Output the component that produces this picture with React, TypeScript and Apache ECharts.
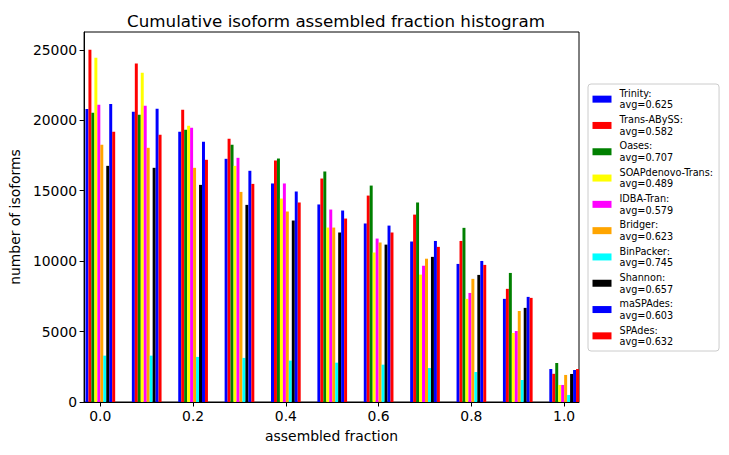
import React, { useEffect, useRef } from "react";
import * as echarts from "echarts";

const bins = [0.0, 0.1, 0.2, 0.3, 0.4, 0.5, 0.6, 0.7, 0.8, 0.9, 1.0];
const xTicks = [0.0, 0.2, 0.4, 0.6, 0.8, 1.0];
const yTicks = [0, 5000, 10000, 15000, 20000, 25000];

const names = [
  "Trinity",
  "Trans-ABySS",
  "Oases",
  "SOAPdenovo-Trans",
  "IDBA-Tran",
  "Bridger",
  "BinPacker",
  "Shannon",
  "maSPAdes",
  "SPAdes",
];
const avgs = ["0.625", "0.582", "0.707", "0.489", "0.579", "0.623", "0.745", "0.657", "0.603", "0.632"];
const colors = ["#0000ff", "#ff0000", "#008000", "#ffff00", "#ff00ff", "#ffa500", "#00ffff", "#000000", "#0000ff", "#ff0000"];

const trinity = [20800, 20600, 19180, 17260, 15510, 14020, 12670, 11390, 9800, 7320, 2340];
const transAbyss = [25000, 24030, 20740, 18680, 17140, 15860, 14650, 13300, 11430, 8030, 2000];
const oases = [20530, 20380, 19320, 18250, 17280, 16360, 15360, 14160, 12360, 9160, 2770];
const soap = [24430, 23370, 19600, 16760, 14440, 12380, 10610, 9040, 7320, 4900, 1210];
const idba = [21090, 21020, 19460, 17330, 15510, 13660, 11600, 9670, 7740, 5040, 1210];
const bridger = [18250, 18040, 16620, 14910, 13520, 12380, 11320, 10170, 8740, 6460, 1920];
const binpacker = [3290, 3290, 3200, 3130, 2940, 2790, 2650, 2410, 2130, 1560, 500];
const shannon = [16760, 16620, 15410, 13990, 12880, 12030, 11170, 10300, 9020, 6680, 1990];
const maspades = [21150, 20810, 18470, 16410, 14940, 13590, 12520, 11430, 10010, 7460, 2270];
const spades = [19180, 18960, 17190, 15480, 14160, 13020, 12030, 11010, 9730, 7390, 2340];

const seriesValues = [trinity, transAbyss, oases, soap, idba, bridger, binpacker, shannon, maspades, spades];

const FONT = "DejaVu Sans";
const BAR_W = 2.97;

export default function App() {
  const ref = useRef<HTMLDivElement>(null);
  useEffect(() => {
    if (!ref.current) return;
    const chart = echarts.init(ref.current, null, { renderer: "svg" });
    const nSeries = names.length;
    chart.setOption({
      animation: false,
      backgroundColor: "#ffffff",
      title: {
        text: "Cumulative isoform assembled fraction histogram",
        left: 331,
        top: 7,
        textAlign: "center",
        textStyle: { fontFamily: FONT, fontSize: 16.7, fontWeight: "normal", color: "#000" },
      },
      grid: {
        left: 83,
        top: 32,
        right: 150,
        bottom: 53,
        show: true,
        borderColor: "#000",
        borderWidth: 1,
        backgroundColor: "transparent",
      },
      legend: {
        orient: "vertical",
        left: 588,
        top: 84,
        padding: [3.5, 6, 3.5, 4.5],
        itemWidth: 19,
        itemHeight: 7,
        itemGap: 3,
        icon: "rect",
        selectedMode: false,
        backgroundColor: "rgba(255,255,255,0.8)",
        borderColor: "#cccccc",
        borderWidth: 1,
        borderRadius: 3,
        data: names,
        formatter: (n: string) => `${n}:\navg=${avgs[names.indexOf(n)]}`,
        textStyle: { fontFamily: FONT, fontSize: 9.7, lineHeight: 11.65, color: "#000", padding: [0, 0, 0, 3] },
      },
      xAxis: {
        type: "value",
        min: -0.035,
        max: 1.032,
        name: "assembled fraction",
        nameLocation: "middle",
        nameGap: 27,
        nameTextStyle: { fontFamily: FONT, fontSize: 13.9, color: "#000" },
        axisLine: { show: true, onZero: false, lineStyle: { color: "#000", width: 1 } },
        axisTick: { show: true, inside: false, length: 4.5, customValues: xTicks, lineStyle: { color: "#000" } },
        axisLabel: {
          customValues: xTicks,
          formatter: (v: number) => v.toFixed(1),
          fontFamily: FONT,
          fontSize: 13.9,
          color: "#000",
          margin: 7,
        },
        splitLine: { show: false },
      },
      yAxis: {
        type: "value",
        min: 0,
        max: 26260,
        name: "number of isoforms",
        nameLocation: "middle",
        nameGap: 60,
        nameTextStyle: { fontFamily: FONT, fontSize: 13.9, color: "#000" },
        axisLine: { show: true, onZero: false, lineStyle: { color: "#000", width: 1 } },
        axisTick: { show: true, inside: false, length: 4.5, customValues: yTicks, lineStyle: { color: "#000" } },
        axisLabel: {
          customValues: yTicks,
          formatter: (v: number) => String(v),
          fontFamily: FONT,
          fontSize: 13.9,
          color: "#000",
          margin: 7,
        },
        splitLine: { show: false },
      },
      series: names.map((n, i) => ({
        name: n,
        type: "custom",
        itemStyle: { color: colors[i] },
        encode: { x: 0, y: 1 },
        data: bins.map((b, j) => [b, seriesValues[i][j]]),
        renderItem: (params: any, api: any) => {
          const x = api.value(0);
          const y = api.value(1);
          const top = api.coord([x, y]);
          const base = api.coord([x, 0]);
          const left = top[0] + (i - nSeries / 2) * BAR_W;
          return {
            type: "rect",
            shape: { x: left, y: top[1], width: BAR_W, height: base[1] - top[1] },
            style: { fill: colors[i] },
          };
        },
      })),
    });
    return () => chart.dispose();
  }, []);
  return (
    <div
      ref={ref}
      style={{ position: "absolute", left: 0, top: 0, width: 729, height: 455 }}
    />
  );
}
